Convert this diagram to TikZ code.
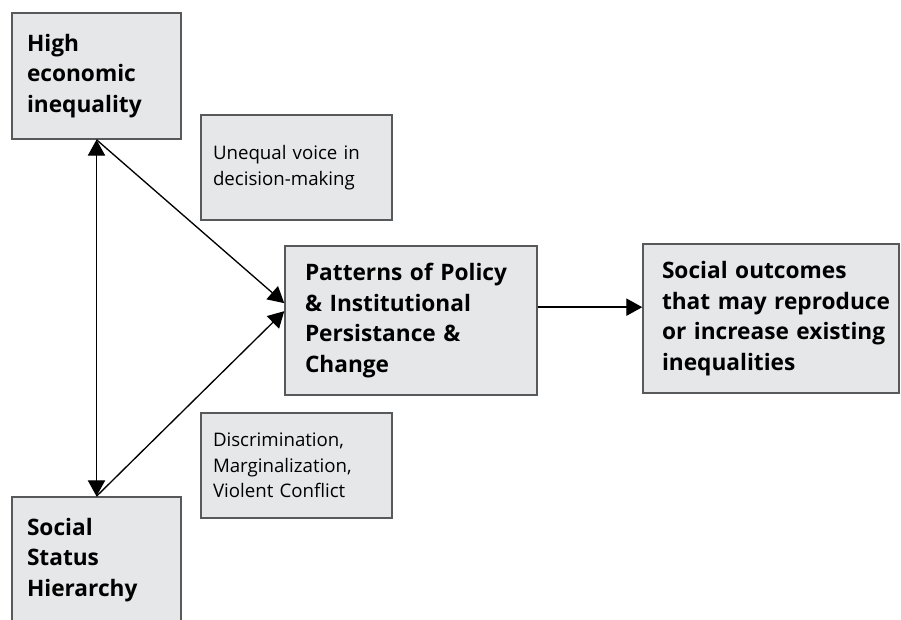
\documentclass[tikz,border=0pt]{standalone}
\usepackage{fontspec}
\setmainfont{Open Sans}
\usepackage{tikz}
\usetikzlibrary{arrows.meta}
\definecolor{boxgray}{HTML}{E6E7E8}
\definecolor{edgegray}{HTML}{58595B}

\begin{document}
\begin{tikzpicture}[x=0.75pt,y=-0.75pt,
    >={Triangle[length=12pt,width=13pt]},
    box/.style={draw=edgegray,fill=boxgray,line width=1.1pt,rectangle,align=left,inner sep=0pt},
    bigbox/.style={box,font=\fontsize{17}{23}\selectfont\bfseries},
    smallbox/.style={box,font=\fontsize{14}{19}\selectfont},
    arr/.style={line width=1pt,->}]
        \clip (0,0) rectangle (901,620);
        \node [bigbox,minimum width=126.75pt,minimum height=94.5pt,text width=104.25pt] at (96.5,76) (ineq){High\\economic\\inequality};
        \node [bigbox,minimum width=126.75pt,minimum height=94.5pt,text width=104.25pt] at (96.5,560) (status){Social\\Status\\Hierarchy};
        \node [smallbox,minimum width=143.25pt,minimum height=78.75pt,text width=125.25pt] at (296.5,167.5) (voice){Unequal voice in\\decision-making};
        \node [smallbox,minimum width=143.25pt,minimum height=78.75pt,text width=125.25pt] at (296.5,465.5) (discr){Discrimination,\\Marginalization,\\Violent Conflict};
        \node [bigbox,minimum width=189pt,minimum height=111.75pt,text width=159pt] at (411,320.5) (policy){Patterns of Policy\\\& Institutional\\Persistance \&\\Change};
        \node [bigbox,minimum width=192pt,minimum height=111.75pt,text width=163.5pt] at (771,318.5) (outcome){\mbox{Social outcomes}\\\mbox{that may reproduce}\\\mbox{or increase existing}\\\mbox{inequalities}};

        \draw [arr,<->] (ineq.south) -- (status.north);
        \draw [arr] (ineq.south) -- ([yshift=13pt]policy.west);
        \draw [arr] (status.north) -- ([yshift=7pt]policy.west);
        \draw [arr] ([yshift=10pt]policy.east) -- ([yshift=10pt]policy.east -| outcome.west);
\end{tikzpicture}
\end{document}
